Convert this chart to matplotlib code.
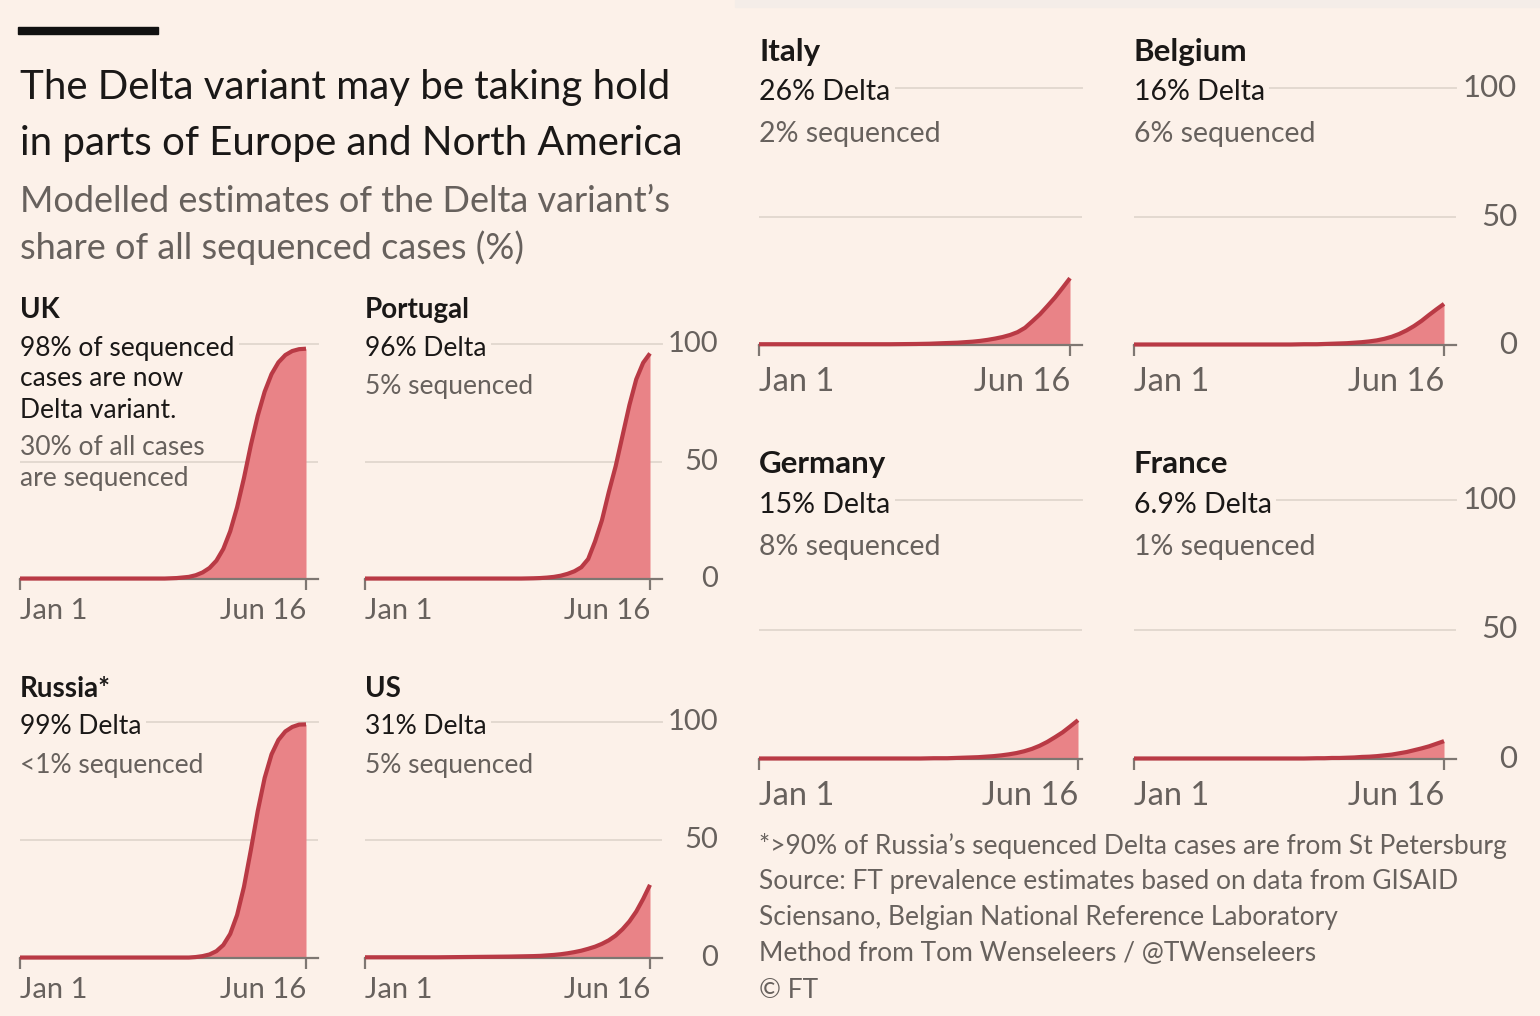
import matplotlib.pyplot as plt
from matplotlib.transforms import blended_transform_factory
from matplotlib.patches import Rectangle

plt.rcParams['font.family'] = ['Lato', 'DejaVu Sans']

### DATA ###
# days since Jan 1 (last point = Jun 16)
days = [0, 14, 28, 42, 56, 70, 84, 91, 98, 102, 106, 110, 114, 118, 122,
        126, 130, 134, 138, 142, 146, 150, 154, 158, 162, 166]

uk = [0.2, 0.2, 0.2, 0.2, 0.2, 0.2, 0.2, 0.4, 0.9, 1.6, 2.8, 4.7, 7.8,
      12.8, 20.3, 30.5, 43, 57, 69.5, 79.7, 87.2, 92.2, 95.3, 97.0, 97.8, 98]
portugal = [0.2, 0.2, 0.2, 0.2, 0.2, 0.2, 0.2, 0.2, 0.3, 0.4, 0.6, 0.9,
            1.4, 2.2, 3.3, 5.0, 8.5, 16, 25, 37, 48, 61, 74, 85, 92, 96]
russia = [0.2, 0.2, 0.2, 0.2, 0.2, 0.2, 0.2, 0.2, 0.2, 0.4, 0.8, 1.5, 2.9,
          5.5, 10.2, 18.2, 30.2, 45.8, 62.3, 76.3, 86.3, 92.4, 96, 97.9,
          98.9, 99]
us = [0.3, 0.3, 0.3, 0.3, 0.4, 0.5, 0.6, 0.7, 0.8, 0.9, 1.1, 1.3, 1.6,
      2.0, 2.5, 3.1, 3.9, 4.8, 6.0, 7.5, 9.5, 12.2, 15.5, 19.7, 25, 31]
italy = [0.3, 0.3, 0.3, 0.3, 0.3, 0.3, 0.4, 0.5, 0.7, 0.8, 0.9, 1.1, 1.3,
         1.6, 2.0, 2.5, 3.1, 3.9, 5.0, 6.7, 9.3, 12, 15.2, 18.5, 22.2, 26]
belgium = [0.2, 0.2, 0.2, 0.2, 0.2, 0.2, 0.2, 0.3, 0.3, 0.4, 0.5, 0.6, 0.7,
           0.9, 1.1, 1.4, 1.8, 2.4, 3.2, 4.3, 5.7, 7.4, 9.4, 11.7, 13.9, 16]
germany = [0.2, 0.2, 0.2, 0.2, 0.2, 0.2, 0.2, 0.3, 0.3, 0.4, 0.5, 0.6, 0.7,
           0.9, 1.1, 1.4, 1.8, 2.3, 3.0, 3.9, 5.1, 6.6, 8.4, 10.3, 12.6, 15]
france = [0.2, 0.2, 0.2, 0.2, 0.2, 0.2, 0.2, 0.2, 0.3, 0.3, 0.4, 0.4, 0.5,
          0.6, 0.8, 0.9, 1.1, 1.4, 1.7, 2.2, 2.7, 3.4, 4.1, 4.9, 5.9, 6.9]

tick_labels = ['Jan 1', 'Jun 16']
y_ticks = [0, 50, 100]

title = ['The Delta variant may be taking hold',
         'in parts of Europe and North America']
subtitle = ['Modelled estimates of the Delta variant\u2019s',
            'share of all sequenced cases (%)']
footnote = ['*>90% of Russia\u2019s sequenced Delta cases are from St Petersburg',
            'Source: FT prevalence estimates based on data from GISAID',
            'Sciensano, Belgian National Reference Laboratory',
            'Method from Tom Wenseleers / @TWenseleers',
            '\u00a9 FT']

### STYLE ###
W, H = 1540, 1016
BG = '#FCF1E9'
LINE = '#B93A45'
FILL = '#E98387'
GRID = '#E3D9D0'
AXIS = '#7E7772'
GRAY = '#67615D'
BLACK = '#1A1817'


def fx(x):
    return x / W


def fy(y):
    return 1 - y / H


fig = plt.figure(figsize=(W / 100, H / 100), dpi=100, facecolor=BG)

# faint shadow strip at top of the right-hand screenshot
fig.patches.append(Rectangle((fx(735), fy(7)), 1 - fx(735), 7 / H,
                             transform=fig.transFigure, color='#F4EDE8',
                             zorder=0))

# black bar + title
fig.patches.append(Rectangle((fx(18), fy(34)), 140 / W, 7 / H,
                             transform=fig.transFigure, color='#111111'))
for i, line in enumerate(title):
    fig.text(fx(20), fy(87 + 56 * i), line, fontsize=29, color=BLACK,
             va='center', ha='left')
for i, line in enumerate(subtitle):
    fig.text(fx(20), fy(201 + 47 * i), line, fontsize=26, color=GRAY,
             va='center', ha='left')


def panel(values, x0, x1, xend, ybase, ytop, ylab_x, fs_tick, fs_ylab,
          tick_pad, ylabels=True):
    ax = fig.add_axes([fx(x0), fy(ybase), (xend - x0) / W, (ybase - ytop) / H])
    ax.set_facecolor('none')
    ax.set_xlim(0, days[-1] * (xend - x0) / (x1 - x0))
    ax.set_ylim(0, 100)
    for s in ['top', 'left', 'right']:
        ax.spines[s].set_visible(False)
    ax.spines['bottom'].set_color(AXIS)
    ax.spines['bottom'].set_linewidth(1.6)
    ax.axhline(50, color=GRID, lw=1.4, zorder=0)
    ax.axhline(100, color=GRID, lw=1.4, zorder=0, clip_on=False)
    ax.fill_between(days, values, 0, color=FILL, lw=0, zorder=2)
    ax.plot(days, values, color=LINE, lw=3, zorder=4, clip_on=False,
            solid_capstyle='butt', solid_joinstyle='round')
    ax.set_yticks([])
    ax.set_xticks([days[0], days[-1]])
    ax.set_xticklabels(tick_labels)
    labs = ax.get_xticklabels()
    labs[0].set_ha('left')
    labs[1].set_ha('right')
    ax.tick_params(axis='x', length=8, width=1.6, color=AXIS,
                   labelcolor=GRAY, labelsize=fs_tick, pad=tick_pad)
    if ylabels:
        tr = blended_transform_factory(fig.transFigure, ax.transData)
        for v in y_ticks:
            ax.text(fx(ylab_x), v, str(v), transform=tr, ha='right',
                    va='center', fontsize=fs_ylab, color=GRAY)
    return ax


def labels(x, y_name, name, black, gray, fs_name, fs_txt, dy_first, dy):
    fig.text(fx(x), fy(y_name), name, fontsize=fs_name, fontweight='bold',
             color=BLACK, va='center', ha='left')
    y = y_name + dy_first
    for j, line in enumerate(black):
        kw = {}
        if j == 0:
            kw['bbox'] = dict(facecolor=BG, edgecolor='none', pad=3)
        fig.text(fx(x), fy(y), line, fontsize=fs_txt, color=BLACK,
                 va='center', ha='left', **kw)
        y += dy
    y += dy * 0.2
    for line in gray:
        fig.text(fx(x), fy(y), line, fontsize=fs_txt, color=GRAY,
                 va='center', ha='left')
        y += dy


# left screenshot
panel(uk, 20, 306, 318, 579, 344, 718, 21, 21, 6, ylabels=False)
panel(portugal, 365, 650, 662, 579, 344, 718, 21, 21, 6)
panel(russia, 20, 306, 318, 958, 722, 718, 21, 21, 6, ylabels=False)
panel(us, 365, 650, 662, 958, 722, 718, 21, 21, 6)

labels(20, 310, 'UK', ['98% of sequenced', 'cases are now', 'Delta variant.'],
       ['30% of all cases', 'are sequenced'], 20, 19, 38, 31)
labels(365, 310, 'Portugal', ['96% Delta'], ['5% sequenced'], 20, 19, 38, 32)
labels(20, 689, 'Russia*', ['99% Delta'], ['<1% sequenced'], 20, 19, 38, 32)
labels(365, 689, 'US', ['31% Delta'], ['5% sequenced'], 20, 19, 38, 32)

# right screenshot
panel(italy, 759, 1070, 1082, 345, 88, 1517, 23.5, 22.5, 8, ylabels=False)
panel(belgium, 1134, 1444, 1456, 345, 88, 1517, 23.5, 22.5, 8)
panel(germany, 759, 1078, 1082, 759, 500, 1517, 23.5, 22.5, 8, ylabels=False)
panel(france, 1134, 1444, 1456, 759, 500, 1517, 23.5, 22.5, 8)

labels(759, 52, 'Italy', ['26% Delta'], ['2% sequenced'], 22.5, 20.5, 40, 35)
labels(1134, 52, 'Belgium', ['16% Delta'], ['6% sequenced'], 22.5, 20.5, 40, 35)
labels(759, 464, 'Germany', ['15% Delta'], ['8% sequenced'], 22.5, 20.5, 41, 35)
labels(1134, 464, 'France', ['6.9% Delta'], ['1% sequenced'], 22.5, 20.5, 41, 35)

for i, line in enumerate(footnote):
    fig.text(fx(759), fy(846 + 36 * i), line, fontsize=19, color=GRAY,
             va='center', ha='left')

fig.savefig('out.png', dpi=100, facecolor=BG)
